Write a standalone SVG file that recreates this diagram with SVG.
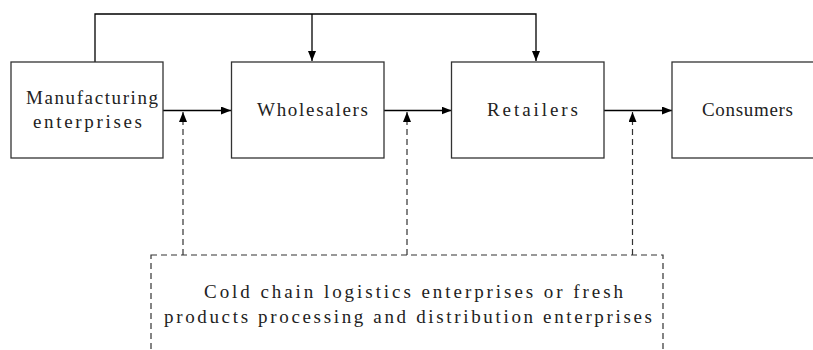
<svg xmlns="http://www.w3.org/2000/svg" width="813" height="350" viewBox="0 0 813 350">
  <defs>
    <marker id="arr" viewBox="0 0 10 8" refX="10" refY="4" markerWidth="10" markerHeight="8" markerUnits="userSpaceOnUse" orient="auto">
      <path d="M0,0 L10,4 L0,8 Z" fill="#000"/>
    </marker>
    <style>
      .box { fill: #fff; stroke: #333; stroke-width: 1.3; }
      .dbox { fill: none; stroke: #333; stroke-width: 1.2; stroke-dasharray: 6 4; }
      .ln { fill: none; stroke: #000; stroke-width: 1.3; }
      .dl { fill: none; stroke: #333; stroke-width: 1.2; stroke-dasharray: 6 4; }
      .t { font-family: "Liberation Serif", "DejaVu Serif", serif; font-size: 19px; fill: #222; }
    </style>
  </defs>
  <rect width="813" height="350" fill="#fff"/>

  <g id="connectors">
    <polyline class="ln" points="95,62 95,14 536,14 536,61" marker-end="url(#arr)"/>
    <line class="ln" x1="312" y1="14" x2="312" y2="61" marker-end="url(#arr)"/>
    <line class="ln" x1="163" y1="110.5" x2="231" y2="110.5" marker-end="url(#arr)"/>
    <line class="ln" x1="384" y1="110.5" x2="451.5" y2="110.5" marker-end="url(#arr)"/>
    <line class="ln" x1="604" y1="110.5" x2="672" y2="110.5" marker-end="url(#arr)"/>
    <line class="dl" x1="183" y1="255" x2="183" y2="112" marker-end="url(#arr)"/>
    <line class="dl" x1="407" y1="255" x2="407" y2="112" marker-end="url(#arr)"/>
    <line class="dl" x1="632.5" y1="255" x2="632.5" y2="112" marker-end="url(#arr)"/>
  </g>

  <g id="manufacturing">
    <rect class="box" x="11" y="62" width="152" height="96"/>
    <text class="t" x="26" y="104" textLength="132" lengthAdjust="spacing">Manufacturing</text>
    <text class="t" x="33" y="128" textLength="109" lengthAdjust="spacing">enterprises</text>
  </g>

  <g id="wholesalers">
    <rect class="box" x="231.5" y="62" width="152.5" height="96"/>
    <text class="t" x="257" y="116" textLength="111" lengthAdjust="spacing">Wholesalers</text>
  </g>

  <g id="retailers">
    <rect class="box" x="451.5" y="62" width="152.5" height="96"/>
    <text class="t" x="487" y="116" textLength="91" lengthAdjust="spacing">Retailers</text>
  </g>

  <g id="consumers">
    <rect class="box" x="672" y="62" width="160" height="96"/>
    <text class="t" x="702" y="116" textLength="91" lengthAdjust="spacing">Consumers</text>
  </g>

  <g id="cold-chain">
    <rect class="dbox" x="151" y="255" width="512" height="120"/>
    <text class="t" x="204" y="298" textLength="419" lengthAdjust="spacing">Cold chain logistics enterprises or fresh</text>
    <text class="t" x="164" y="323" textLength="488" lengthAdjust="spacing">products processing and distribution enterprises</text>
  </g>
</svg>
